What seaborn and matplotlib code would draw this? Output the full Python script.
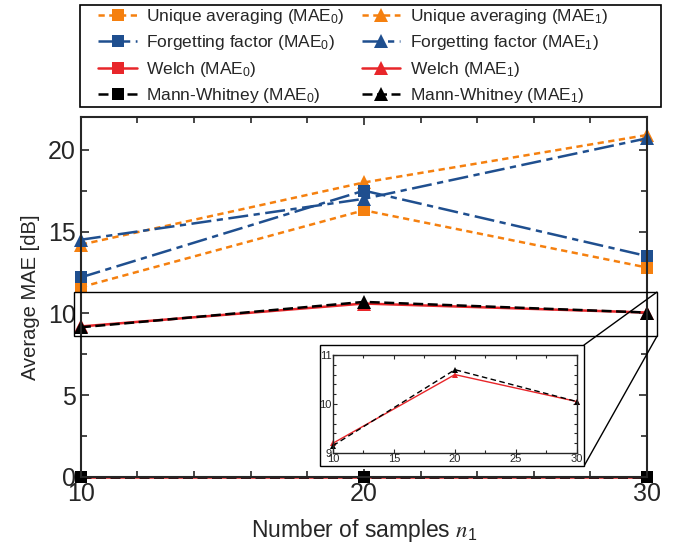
import matplotlib
matplotlib.use('Agg')
import matplotlib.pyplot as plt
from matplotlib.patches import Rectangle
from matplotlib.lines import Line2D
from matplotlib.ticker import MultipleLocator
import seaborn as sns

# data
samples = [10, 20, 30]
unique_mae0 = [11.6, 16.3, 12.8]
unique_mae1 = [14.2, 18.0, 20.9]
forget_mae0 = [12.2, 17.5, 13.5]
forget_mae1 = [14.5, 17.0, 20.7]
welch_mae0 = [0.0, 0.0, 0.0]
welch_mae1 = [9.2, 10.6, 10.05]
mw_mae0 = [0.0, 0.0, 0.0]
mw_mae1 = [9.15, 10.7, 10.05]

names = ['Unique averaging', 'Forgetting factor', 'Welch', 'Mann-Whitney']
colors = ['#f5800f', '#1f4f8f', '#e8262a', '#000000']
styles = [(0, (2.5, 1.8)), (0, (8, 2.2, 2.5, 2.2)), '-', (0, (4, 1.8))]
mae0 = [unique_mae0, forget_mae0, welch_mae0, mw_mae0]
mae1 = [unique_mae1, forget_mae1, welch_mae1, mw_mae1]

sns.set_theme(style='ticks')
plt.rcParams['font.family'] = ['Liberation Sans', 'DejaVu Sans']
plt.rcParams['mathtext.fontset'] = 'stix'

fig = plt.figure(figsize=(6.74, 5.46), dpi=100)
ax = fig.add_axes([0.120, 0.1264, 0.840, 0.6593])

for name, c, ls, y0, y1 in zip(names, colors, styles, mae0, mae1):
    sns.lineplot(x=samples, y=y0, ax=ax, color=c, linestyle=ls, lw=1.8,
                 marker='s', markersize=9, markeredgewidth=0, clip_on=False,
                 label=name + r' (MAE$\mathregular{_0}$)')
    sns.lineplot(x=samples, y=y1, ax=ax, color=c, linestyle=ls, lw=1.8,
                 marker='^', markersize=10, markeredgewidth=0, clip_on=False,
                 label=name + r' (MAE$\mathregular{_1}$)')

ax.set_xlim(10, 30)
ax.set_ylim(0, 22)
ax.xaxis.set_major_locator(MultipleLocator(10))
ax.xaxis.set_minor_locator(MultipleLocator(2))
ax.yaxis.set_major_locator(MultipleLocator(5))
ax.yaxis.set_minor_locator(MultipleLocator(2.5))
ax.tick_params(which='both', direction='in', top=True, right=True, width=1.2)
ax.tick_params(which='major', length=6, labelsize=18)
ax.tick_params(which='minor', length=4)
for s in ax.spines.values():
    s.set_linewidth(1.5)
ax.set_xlabel(r'Number of samples $n_\mathregular{1}$', fontsize=16.5, labelpad=8)
ax.set_ylabel('Average MAE [dB]', fontsize=14.5, labelpad=6)

# legend: MAE0 entries in the first column, MAE1 in the second
h, l = ax.get_legend_handles_labels()
order = [0, 2, 4, 6, 1, 3, 5, 7]
ax.get_legend().remove()
fig.legend([h[i] for i in order], [l[i] for i in order], ncol=2,
           loc='upper left', bbox_to_anchor=(0.146, 0.987),
           fontsize=12.5, frameon=False, borderpad=0, borderaxespad=0,
           handlelength=2.2, handletextpad=0.55, columnspacing=1.0,
           labelspacing=0.42)
fig.patches.append(Rectangle((0.1187, 0.804), 0.862, 0.187, transform=fig.transFigure,
                             fill=False, ec='black', lw=1.2))

# zoom rectangle and inset box
ax.add_patch(Rectangle((9.75, 8.6), 20.6, 2.7, fill=False, ec='black', lw=1,
                       clip_on=False, zorder=5))
box = Rectangle((0.4748, 0.1465), 0.3917, 0.2216, transform=fig.transFigure,
                fc='white', ec='black', lw=1, zorder=6)
fig.patches.append(box)
for yd, yf in [(11.3, 0.1465 + 0.2216), (8.6, 0.1465)]:
    xa, ya = fig.transFigure.inverted().transform(ax.transData.transform((30.35, yd)))
    fig.lines.append(Line2D([xa, 0.4748 + 0.3917], [ya, yf], transform=fig.transFigure,
                            color='black', lw=1, zorder=6))

ins = fig.add_axes([0.494, 0.1703, 0.362, 0.1795], zorder=7)
sns.lineplot(x=samples, y=welch_mae1, ax=ins, color=colors[2], lw=1,
             marker='^', markersize=5, markeredgewidth=0, clip_on=False)
sns.lineplot(x=samples, y=mw_mae1, ax=ins, color='black', lw=1, linestyle=(0, (4, 2.5)),
             marker='^', markersize=5, markeredgewidth=0, clip_on=False)
ins.set_xlim(10, 30)
ins.set_ylim(9, 11)
ins.xaxis.set_major_locator(MultipleLocator(5))
ins.xaxis.set_minor_locator(MultipleLocator(2.5))
ins.yaxis.set_major_locator(MultipleLocator(1))
ins.yaxis.set_minor_locator(MultipleLocator(0.2))
ins.tick_params(which='both', direction='in', top=True, right=True, labelsize=8,
                pad=1, width=0.8)
ins.tick_params(which='major', length=3)
ins.tick_params(which='minor', length=2)
for s in ins.spines.values():
    s.set_linewidth(1)

fig.savefig('out.png', dpi=100)
